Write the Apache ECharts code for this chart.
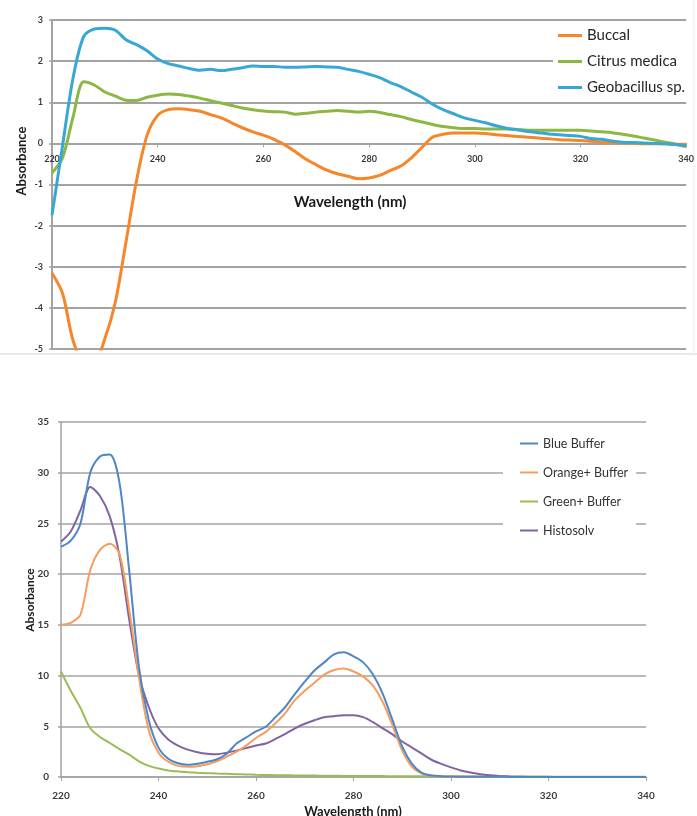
<!DOCTYPE html>
<html>
<head>
<meta charset="utf-8">
<script src="https://cdn.jsdelivr.net/npm/echarts@6/dist/echarts.min.js"></script>
<style>
  html, body { margin: 0; padding: 0; background: #fff; }
  #chart { width: 697px; height: 816px; }
</style>
</head>
<body>
<div id="chart"></div>
<script>
// Wavelength grid (nm) shared by both spectra panels
const wavelengths = [
  220, 222, 224, 226, 228, 230, 232, 234, 236, 238,
  240, 242, 244, 246, 248, 250, 252, 254, 256, 258,
  260, 262, 264, 266, 268, 270, 272, 274, 276, 278,
  280, 282, 284, 286, 288, 290, 292, 294, 296, 298,
  300, 302, 304, 306, 308, 310, 312, 314, 316, 318,
  320, 322, 324, 326, 328, 330, 332, 334, 336, 338,
  340
];

// Upper panel: absorbance of the three extracts
const buccal = [
  -3.15, -3.65, -4.8, -5.3, -5.3, -4.75, -3.85, -2.4, -0.9, 0.2,
  0.68, 0.82, 0.84, 0.82, 0.78, 0.7, 0.62, 0.5, 0.38, 0.28,
  0.2, 0.1, -0.03, -0.2, -0.38, -0.52, -0.65, -0.74, -0.8, -0.86,
  -0.84, -0.78, -0.66, -0.55, -0.35, -0.1, 0.15, 0.22, 0.25, 0.25,
  0.25, 0.24, 0.21, 0.19, 0.17, 0.15, 0.13, 0.11, 0.09, 0.08,
  0.07, 0.05, 0.03, 0.02, 0.01, 0.0, -0.01, -0.01, -0.01, -0.02,
  -0.02
];
const citrusMedica = [
  -0.72, -0.35, 0.65, 1.5, 1.42, 1.25, 1.15, 1.05, 1.04, 1.12,
  1.17, 1.2, 1.19, 1.15, 1.1, 1.04, 0.98, 0.92, 0.86, 0.82,
  0.79, 0.77, 0.76, 0.71, 0.73, 0.76, 0.78, 0.8, 0.78, 0.76,
  0.78, 0.75, 0.7, 0.65, 0.58, 0.52, 0.46, 0.41, 0.38, 0.36,
  0.36, 0.35, 0.35, 0.35, 0.34, 0.32, 0.32, 0.32, 0.32, 0.32,
  0.32, 0.3, 0.28, 0.26, 0.22, 0.18, 0.13, 0.08, 0.03, -0.02,
  -0.08
];
const geobacillus = [
  -1.75, -0.05, 1.6, 2.6, 2.78, 2.8, 2.75, 2.52, 2.4, 2.25,
  2.05, 1.94, 1.88, 1.82, 1.78, 1.8, 1.77, 1.8, 1.84, 1.88,
  1.87, 1.87, 1.85, 1.85, 1.86, 1.87, 1.86, 1.85, 1.8, 1.75,
  1.68, 1.6, 1.48, 1.38, 1.25, 1.12, 0.95, 0.82, 0.72, 0.62,
  0.56, 0.5, 0.43, 0.37, 0.33, 0.29, 0.26, 0.23, 0.21, 0.19,
  0.17, 0.12, 0.1, 0.06, 0.03, 0.02, 0.01, 0.0, -0.01, -0.03,
  -0.05
];

// Lower panel: absorbance of stains in buffer
const blueBuffer = [
  22.7, 23.3, 25.0, 30.0, 31.6, 31.8, 29.0, 20.3, 10.8, 5.6,
  2.9, 1.8, 1.35, 1.2, 1.3, 1.5, 1.75, 2.3, 3.3, 3.9,
  4.5, 4.95, 5.9, 6.9, 8.2, 9.4, 10.5, 11.3, 12.1, 12.3,
  11.9, 11.3, 10.1, 8.2, 5.6, 3.0, 1.3, 0.4, 0.15, 0.08,
  0.05, 0.03, 0.03, 0.02, 0.02, 0.02, 0.01, 0.01, 0.01, 0.01,
  0.01, 0.01, 0.01, 0.0, 0.0, 0.0, 0.0, 0.0, 0.0, 0.0,
  0.0
];
const orangeBuffer = [
  15.0, 15.2, 16.0, 20.4, 22.4, 23.0, 22.0, 16.5, 9.8, 4.6,
  2.4, 1.5, 1.1, 1.0, 1.05, 1.25, 1.55, 2.0, 2.5, 3.1,
  3.85, 4.45, 5.3, 6.3, 7.6, 8.5, 9.3, 10.1, 10.55, 10.7,
  10.4, 9.9, 9.0, 7.4, 5.1, 2.6, 1.0, 0.35, 0.12, 0.06,
  0.03, 0.02, 0.02, 0.01, 0.01, 0.01, 0.01, 0.01, 0.0, 0.0,
  0.0, 0.0, 0.0, 0.0, 0.0, 0.0, 0.0, 0.0, 0.0, 0.0,
  0.0
];
const greenBuffer = [
  10.4, 8.5, 6.8, 4.8, 3.95, 3.35, 2.75, 2.2, 1.55, 1.1,
  0.83, 0.65, 0.55, 0.48, 0.42, 0.38, 0.34, 0.31, 0.28, 0.25,
  0.22, 0.2, 0.18, 0.17, 0.16, 0.15, 0.14, 0.13, 0.12, 0.11,
  0.1, 0.1, 0.09, 0.09, 0.08, 0.08, 0.07, 0.07, 0.07, 0.06,
  0.06, 0.06, 0.06, 0.05, 0.05, 0.05, 0.05, 0.04, 0.04, 0.04,
  0.04, 0.03, 0.03, 0.03, 0.03, 0.03, 0.02, 0.02, 0.02, 0.02,
  0.02
];
const histosolv = [
  23.2, 24.2, 26.3, 28.6, 27.7, 25.7, 21.8, 15.5, 10.0, 6.9,
  4.8, 3.7, 3.1, 2.7, 2.45, 2.3, 2.25, 2.4, 2.6, 2.85,
  3.1, 3.3, 3.75, 4.25, 4.8, 5.25, 5.6, 5.9, 6.0, 6.1,
  6.1, 5.9, 5.4, 4.8, 4.2, 3.5, 2.9, 2.3, 1.7, 1.3,
  0.95, 0.65, 0.45, 0.28, 0.17, 0.1, 0.05, 0.02, 0.01, 0.01,
  0.01, 0.01, 0.01, 0.0, 0.0, 0.0, 0.0, 0.0, 0.0, 0.0,
  0.0
];

const FONT = 'Lato, "Open Sans", sans-serif';
const GRID_GREY = '#a3a3a3';
const LABEL_COLOR = '#3a3a3a';

// Upper panel frame and value range
const TOP_GRID = { left: 52, top: 20, width: 638, height: 329 };
const TOP_MIN = -5, TOP_MAX = 3;
// the wavelength axis of the upper panel runs along absorbance = 0
const topAxisLift = -TOP_GRID.height * (0 - TOP_MIN) / (TOP_MAX - TOP_MIN);

function pairs(xs, ys) {
  return xs.map((x, i) => [x, ys[i]]);
}

function lineSeries(name, values, color, width, axisIndex) {
  return {
    name: name,
    type: 'line',
    xAxisIndex: axisIndex,
    yAxisIndex: axisIndex,
    data: pairs(wavelengths, values),
    showSymbol: false,
    smooth: 0.3,
    lineStyle: { color: color, width: width },
    itemStyle: { color: color },
    emphasis: { disabled: true },
    clip: true
  };
}

const chart = echarts.init(document.getElementById('chart'), null, { renderer: 'canvas' });

const option = {
  backgroundColor: '#ffffff',
  animation: false,
  grid: [
    TOP_GRID,
    { left: 61, top: 422, width: 585, height: 355 }
  ],
  xAxis: [
    {
      gridIndex: 0, type: 'value', min: 220, max: 340, interval: 20,
      position: 'bottom', offset: topAxisLift,
      axisLine: { onZero: false, lineStyle: { color: GRID_GREY, width: 2 } },
      axisTick: { show: true, length: 4, lineStyle: { color: GRID_GREY, width: 1 } },
      axisLabel: { margin: 11, color: LABEL_COLOR, fontFamily: FONT, fontSize: 9, fontWeight: 'bold' },
      splitLine: { show: false }
    },
    {
      gridIndex: 1, type: 'value', min: 220, max: 340, interval: 20,
      axisLine: { onZero: false, lineStyle: { color: GRID_GREY, width: 1.5 } },
      axisTick: { show: true, length: 4, lineStyle: { color: GRID_GREY, width: 1 } },
      axisLabel: { margin: 14, color: LABEL_COLOR, fontFamily: FONT, fontSize: 10, fontWeight: 'bold' },
      splitLine: { show: false }
    }
  ],
  yAxis: [
    {
      gridIndex: 0, type: 'value', min: TOP_MIN, max: TOP_MAX, interval: 1,
      axisLine: { show: true, onZero: false, lineStyle: { color: GRID_GREY, width: 2 } },
      axisTick: { show: true, length: 3, lineStyle: { color: GRID_GREY, width: 1.5 } },
      axisLabel: { margin: 9, color: LABEL_COLOR, fontFamily: FONT, fontSize: 9, fontWeight: 'bold' },
      splitLine: { show: true, lineStyle: { color: GRID_GREY, width: 2 } }
    },
    {
      gridIndex: 1, type: 'value', min: 0, max: 35, interval: 5,
      axisLine: { show: true, onZero: false, lineStyle: { color: GRID_GREY, width: 1.5 } },
      axisTick: { show: true, length: 3, lineStyle: { color: GRID_GREY, width: 1.5 } },
      axisLabel: { margin: 12, color: LABEL_COLOR, fontFamily: FONT, fontSize: 10, fontWeight: 'bold' },
      splitLine: { show: true, lineStyle: { color: GRID_GREY, width: 1.5 } }
    }
  ],
  legend: [
    {
      data: ['Buccal', 'Citrus medica', 'Geobacillus sp.'],
      orient: 'vertical',
      left: 553, top: 23,
      padding: [5, 8, 5, 5],
      backgroundColor: '#ffffff',
      icon: 'rect',
      itemWidth: 24, itemHeight: 3, itemGap: 11,
      textStyle: { color: '#262626', fontFamily: FONT, fontSize: 15 },
      selectedMode: false
    },
    {
      data: ['Blue Buffer', 'Orange+ Buffer', 'Green+ Buffer', 'Histosolv'],
      orient: 'vertical',
      left: 503, top: 430,
      padding: [7, 8, 7, 17],
      backgroundColor: '#ffffff',
      icon: 'rect',
      itemWidth: 18, itemHeight: 2, itemGap: 16,
      textStyle: { color: '#333333', fontFamily: FONT, fontSize: 12.5 },
      selectedMode: false
    }
  ],
  graphic: [
    // axis titles
    {
      type: 'text', x: 350, y: 202,
      style: { text: 'Wavelength (nm)', fill: '#1a1a1a', font: 'bold 15px ' + FONT, align: 'center', verticalAlign: 'middle' }
    },
    {
      type: 'text', x: 22, y: 161, rotation: Math.PI / 2,
      style: { text: 'Absorbance', fill: '#1a1a1a', font: 'bold 13px ' + FONT, align: 'center', verticalAlign: 'middle' }
    },
    {
      type: 'text', x: 353, y: 812,
      style: { text: 'Wavelength (nm)', fill: '#1a1a1a', font: 'bold 13px ' + FONT, align: 'center', verticalAlign: 'middle' }
    },
    {
      type: 'text', x: 30, y: 600, rotation: Math.PI / 2,
      style: { text: 'Absorbance', fill: '#1a1a1a', font: 'bold 12px ' + FONT, align: 'center', verticalAlign: 'middle' }
    },
    // faint frame below the upper panel
    {
      type: 'line', shape: { x1: 0, y1: 354, x2: 697, y2: 354 },
      style: { stroke: '#e2e2e2', lineWidth: 1.5 }
    },
    {
      type: 'line', shape: { x1: 694, y1: 0, x2: 694, y2: 354 },
      style: { stroke: '#ececec', lineWidth: 1 }
    }
  ],
  series: [
    lineSeries('Buccal', buccal, '#f5862a', 3, 0),
    lineSeries('Citrus medica', citrusMedica, '#8cb743', 3, 0),
    lineSeries('Geobacillus sp.', geobacillus, '#37a7d6', 3, 0),
    lineSeries('Green+ Buffer', greenBuffer, '#9bbb59', 2, 1),
    lineSeries('Histosolv', histosolv, '#8064a2', 2, 1),
    lineSeries('Orange+ Buffer', orangeBuffer, '#f79c5a', 2, 1),
    lineSeries('Blue Buffer', blueBuffer, '#4f86c6', 2, 1)
  ]
};

chart.setOption(option);
</script>
</body>
</html>
